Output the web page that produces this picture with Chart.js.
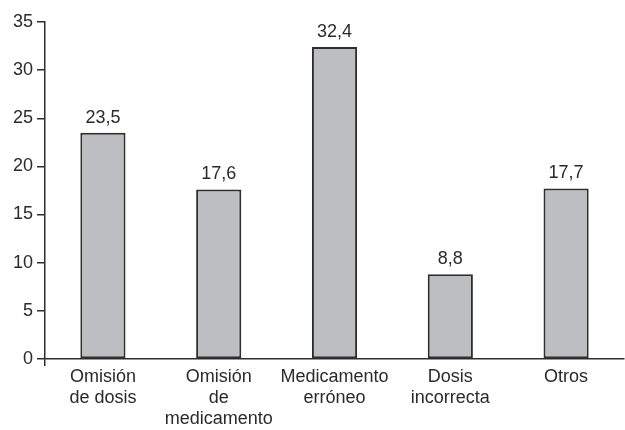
<!DOCTYPE html>
<html>
<head>
<meta charset="utf-8">
<script src="https://cdn.jsdelivr.net/npm/chart.js@4/dist/chart.umd.min.js"></script>
<style>
  html, body { margin: 0; padding: 0; background: #fff; }
  #wrap { width: 625px; height: 430px; }
</style>
</head>
<body>
<div id="wrap"><canvas id="chart" width="625" height="430"></canvas></div>
<script>
const categories = [
    ["Omisión", "de dosis"],
    ["Omisión", "de", "medicamento"],
    ["Medicamento", "erróneo"],
    ["Dosis", "incorrecta"],
    ["Otros"]
];
const values = [23.5, 17.6, 32.4, 8.8, 17.7];
const yTicks = [0, 5, 10, 15, 20, 25, 30, 35];

const ink = "#2a2a2a";
const fontFamily = "'Liberation Sans', Arial, sans-serif";

// value labels over each bar, written with a decimal comma
const valueLabels = {
    id: "valueLabels",
    afterDatasetsDraw(chart) {
        const ctx = chart.ctx;
        const meta = chart.getDatasetMeta(0);
        ctx.save();
        ctx.fillStyle = ink;
        ctx.font = "18px " + fontFamily;
        ctx.textAlign = "center";
        ctx.textBaseline = "bottom";
        meta.data.forEach((bar, i) => {
            ctx.fillText(values[i].toFixed(1).replace(".", ","), bar.x, bar.y - 6);
        });
        ctx.restore();
    }
};

new Chart(document.getElementById("chart"), {
    type: "bar",
    data: {
        labels: categories,
        datasets: [{
            data: values,
            backgroundColor: "#bdbec2",
            borderColor: "#2e2e2e",
            borderWidth: 2,
            borderSkipped: false,
            barPercentage: 0.39,
            categoryPercentage: 1
        }]
    },
    options: {
        responsive: false,
        animation: false,
        layout: { padding: { top: 22, right: 1, left: 9, bottom: 0 } },
        plugins: {
            legend: { display: false },
            tooltip: { enabled: false }
        },
        scales: {
            x: {
                grid: {
                    drawOnChartArea: false,
                    tickLength: 7,
                    color: c => c.index === 0 ? "#2e2e2e" : "transparent",
                    lineWidth: 1.5
                },
                border: { color: "#2e2e2e", width: 1.5 },
                ticks: {
                    color: ink,
                    font: { family: fontFamily, size: 18, lineHeight: 1.15 },
                    maxRotation: 0,
                    padding: 1
                }
            },
            y: {
                min: 0,
                max: 35,
                afterBuildTicks: axis => { axis.ticks = yTicks.map(v => ({ value: v })); },
                grid: {
                    drawOnChartArea: false,
                    tickLength: 8,
                    color: "#2e2e2e",
                    lineWidth: 1.5
                },
                border: { color: "#2e2e2e", width: 1.5 },
                ticks: {
                    color: ink,
                    font: { family: fontFamily, size: 18 },
                    padding: 4
                }
            }
        }
    },
    plugins: [valueLabels]
});
</script>
</body>
</html>
